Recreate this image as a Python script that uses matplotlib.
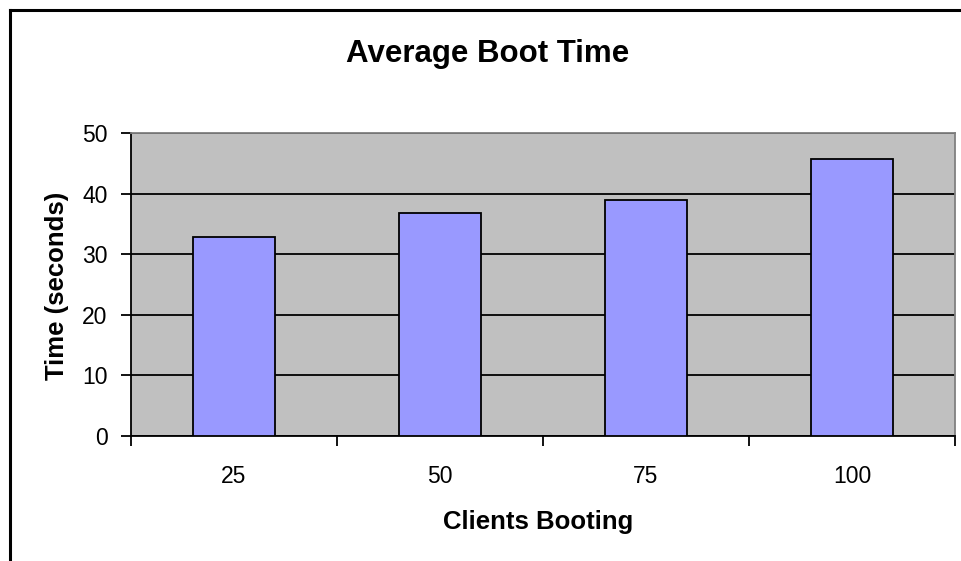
import matplotlib
matplotlib.use("Agg")
import matplotlib.pyplot as plt
from matplotlib.lines import Line2D

categories = ["25", "50", "75", "100"]
boot_times = [32.8, 36.8, 39.0, 45.7]
y_ticks = [0, 10, 20, 30, 40, 50]

plt.rcParams["font.family"] = ["Liberation Sans", "DejaVu Sans"]

W, H = 961, 561
fig = plt.figure(figsize=(W / 100, H / 100), dpi=100)
fig.patch.set_facecolor("white")

# chart frame (top and left edges)
fig.add_artist(Line2D([10 / W, 1.0], [1 - 10 / H, 1 - 10 / H], color="black", lw=2.2,
                      transform=fig.transFigure))
fig.add_artist(Line2D([10 / W, 10 / W], [0, 1 - 10 / H], color="black", lw=2.2,
                      transform=fig.transFigure))

left, right, top, bottom = 131, 955, 133, 436
ax = fig.add_axes([left / W, 1 - bottom / H, (right - left) / W, (bottom - top) / H])
ax.set_facecolor("#C0C0C0")

x = list(range(len(categories)))
ax.bar(x, boot_times, width=0.4, color="#9999FF", edgecolor="black", linewidth=1.3, zorder=3)

ax.set_xlim(-0.5, len(categories) - 0.5)
ax.set_ylim(0, 50)
ax.set_yticks(y_ticks)
ax.set_xticks(x)
ax.set_xticklabels(categories)
ax.set_xticks([i - 0.5 for i in range(len(categories) + 1)], minor=True)
ax.tick_params(axis="x", which="major", length=0, pad=21, labelsize=16.5)
ax.tick_params(axis="x", which="minor", length=7, width=1.3, direction="out")
ax.tick_params(axis="y", length=7, width=1.3, direction="out", labelsize=16.5, pad=10)

ax.yaxis.grid(True, color="black", linewidth=1.3, zorder=1)
ax.set_axisbelow(True)

for side in ("left", "bottom"):
    ax.spines[side].set_color("black")
    ax.spines[side].set_linewidth(1.3)
for side in ("top", "right"):
    ax.spines[side].set_color("#808080")
    ax.spines[side].set_linewidth(1.3)

fig.text(488 / W, 1 - 54 / H, "Average Boot Time", fontsize=22.5, fontweight="bold",
         ha="center", va="center")
fig.text(538 / W, 1 - 522 / H, "Clients Booting", fontsize=18.5, fontweight="bold",
         ha="center", va="center")
fig.text(57 / W, 1 - 286 / H, "Time (seconds)", fontsize=18.5, fontweight="bold",
         ha="center", va="center", rotation=90)

fig.savefig("out.png", dpi=100)
